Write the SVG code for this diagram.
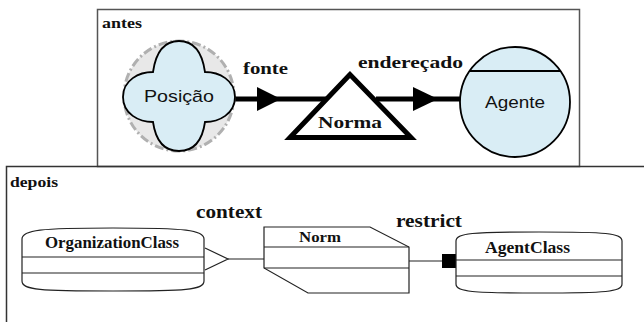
<svg xmlns="http://www.w3.org/2000/svg" width="644" height="322" viewBox="0 0 644 322">
<style>
.lbl{font-family:"Liberation Serif","Times New Roman",serif;font-weight:bold;fill:#111}
.sans{font-family:"Liberation Sans",Arial,sans-serif;fill:#111}
.thick{stroke:#000;stroke-width:5;fill:none}
.thin{stroke:#222;stroke-width:1.2;fill:none}
.blue{fill:#d9edf5;stroke:#000;stroke-width:1.8}
.cls{fill:#fff;stroke:#222;stroke-width:1.2}
</style>
<rect width="644" height="322" fill="#fff"/>
<g id="frame-antes">
<rect x="97.5" y="9.5" width="482" height="157" fill="#fff" stroke="#555" stroke-width="1.5"/>
<text class="lbl" x="102" y="28" font-size="15" textLength="40" lengthAdjust="spacingAndGlyphs">antes</text>
</g>
<g id="connectors-antes">
<line class="thick" x1="234" y1="99" x2="326" y2="99"/>
<polygon points="257,87 281,99 257,111" fill="#000"/>
<line class="thick" x1="376" y1="99" x2="461" y2="99"/>
<polygon points="413,87 438,99 413,111" fill="#000"/>
<text class="lbl" x="243" y="74" font-size="17" textLength="45" lengthAdjust="spacingAndGlyphs">fonte</text>
<text class="lbl" x="358" y="68" font-size="17" textLength="105" lengthAdjust="spacingAndGlyphs">endereçado</text>
</g>
<g id="posicao">
<circle cx="179" cy="96" r="55" fill="#e8e8e8" stroke="#b0b0b0" stroke-width="3" stroke-dasharray="9 3 2 3"/>
<path class="blue" d="M179,41 C197,41 203,58 205,72 C219,72 235,80 235,97 C235,114 219,122 205,122 C203,136 197,151 179,151 C161,151 155,136 153,122 C139,122 123,114 123,97 C123,80 139,72 153,72 C155,58 161,41 179,41 Z"/>
<text class="sans" x="179" y="102" font-size="17" text-anchor="middle" textLength="70" lengthAdjust="spacingAndGlyphs">Posição</text>
</g>
<g id="norma">
<polygon points="350,74.5 290,137.5 411,137.5" fill="#fff" stroke="#000" stroke-width="5" stroke-linejoin="miter"/>
<text class="lbl" x="350" y="128" font-size="17.5" text-anchor="middle" textLength="64" lengthAdjust="spacingAndGlyphs">Norma</text>
</g>
<g id="agente">
<circle class="blue" cx="515" cy="102" r="55"/>
<line x1="469.6" y1="71" x2="560.4" y2="71" stroke="#000" stroke-width="1.8"/>
<text class="sans" x="515" y="108" font-size="16.5" text-anchor="middle" textLength="60" lengthAdjust="spacingAndGlyphs">Agente</text>
</g>
<g id="frame-depois">
<path d="M6.5,330 V166.5 H650" fill="none" stroke="#333" stroke-width="1.5"/>
<text class="lbl" x="10" y="187" font-size="14.5" textLength="48" lengthAdjust="spacingAndGlyphs">depois</text>
</g>
<g id="connectors-depois">
<line class="thin" x1="228" y1="259" x2="264" y2="259"/>
<polyline class="thin" points="205,248 228,259 205,270"/>
<line class="thin" x1="409" y1="261" x2="442" y2="261"/>
<rect x="442" y="254" width="14" height="14" fill="#000"/>
<text class="lbl" x="196" y="218" font-size="18" textLength="66" lengthAdjust="spacingAndGlyphs">context</text>
<text class="lbl" x="396" y="227" font-size="18" textLength="66" lengthAdjust="spacingAndGlyphs">restrict</text>
</g>
<g id="organizationclass">
<path class="cls" d="M22,239 C22,230 40,228 113,228 C186,228 204,230 204,239 V281 C204,290 186,291 113,291 C40,291 22,290 22,281 Z"/>
<line class="thin" x1="22" y1="257" x2="204" y2="257"/>
<line class="thin" x1="22" y1="273" x2="204" y2="273"/>
<text class="lbl" x="45" y="248" font-size="16" textLength="134" lengthAdjust="spacingAndGlyphs">OrganizationClass</text>
</g>
<g id="norm">
<polygon class="cls" points="264,227 370,227 409,247 409,293 308,293 264,268"/>
<line class="thin" x1="264" y1="247" x2="409" y2="247"/>
<line class="thin" x1="264" y1="268" x2="409" y2="268"/>
<text class="lbl" x="299" y="242" font-size="15.5" textLength="42" lengthAdjust="spacingAndGlyphs">Norm</text>
</g>
<g id="agentclass">
<path class="cls" d="M456,241 C456,233 472,232 539,232 C606,232 622,233 622,241 V284 C622,292 606,293 539,293 C472,293 456,292 456,284 Z"/>
<line class="thin" x1="456" y1="260" x2="622" y2="260"/>
<line class="thin" x1="456" y1="276" x2="622" y2="276"/>
<text class="lbl" x="485" y="253" font-size="16" textLength="85" lengthAdjust="spacingAndGlyphs">AgentClass</text>
</g>
</svg>
